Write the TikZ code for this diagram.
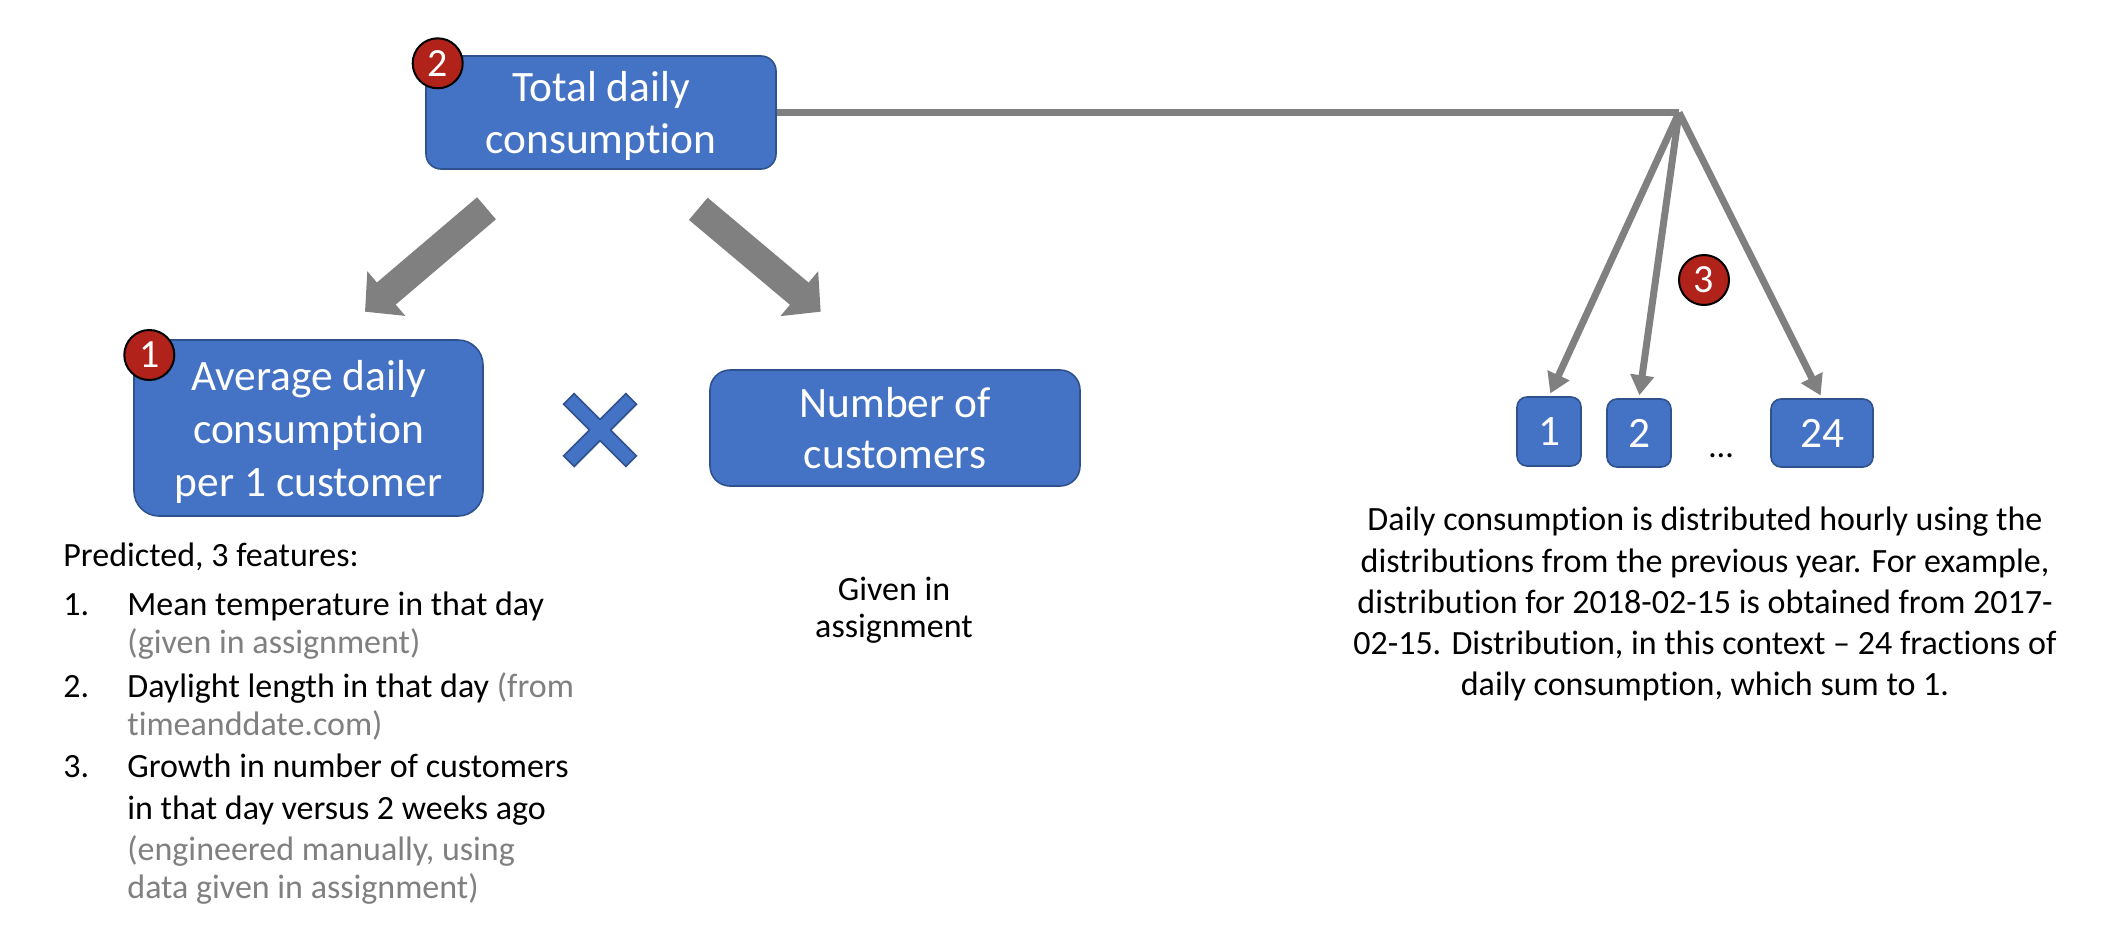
\documentclass[tikz,border=0pt]{standalone}
\usepackage{fontspec}
\setmainfont[Ligatures={NoCommon}]{Carlito}
\usetikzlibrary{arrows.meta}
\definecolor{boxblue}{RGB}{68,114,196}
\definecolor{boxedge}{RGB}{47,82,143}
\definecolor{arrgray}{RGB}{128,128,128}
\definecolor{badgered}{RGB}{176,34,26}
\definecolor{txtgray}{RGB}{128,128,128}
\begin{document}
\begin{tikzpicture}[x=0.5pt,y=-0.5pt,
  bluebox/.style={draw=boxedge, line width=0.8pt, fill=boxblue, text=white, align=center, inner sep=0pt, font=\fontsize{21.7}{25.5}\selectfont},
  badge/.style={circle, draw=black, line width=1pt, fill=badgered, text=white, minimum size=25pt, inner sep=0pt, font=\fontsize{20}{20}\selectfont},
  lbl/.style={inner sep=0pt, font=\fontsize{17}{20}\selectfont, text=black},
  graylbl/.style={lbl, text=txtgray},
  blockarrow/.style={draw=arrgray, line width=14.5pt, -{Triangle[length=14pt,width=28.5pt]}},
  thinarrow/.style={draw=arrgray, line width=3.5pt, -{Triangle[length=10pt,width=11.5pt]}, shorten >=1.5pt},
  thinline/.style={draw=arrgray, line width=3.8pt}
]
\fill[white] (0,0) rectangle (2116,948);
\path[use as bounding box] (0,0) rectangle (2116,948);

% boxes
\node[bluebox, minimum width=175pt, minimum height=56.5pt, rounded corners=7.5pt,
      font=\fontsize{21.7}{26}\selectfont] (total) at (601,112.5) {\rule{0pt}{18pt}Total daily\\consumption};
\node[bluebox, minimum width=174.5pt, minimum height=88pt, rounded corners=12.5pt,
      font=\fontsize{21.7}{26.5}\selectfont] (avg) at (308.5,428) {\rule{0pt}{18.5pt}Average daily\\consumption\\per 1 customer};
\node[bluebox, minimum width=185pt, minimum height=58pt, rounded corners=10pt] (num) at (895,428) {Number of\\customers};
\node[bluebox, minimum width=32pt, minimum height=34.5pt, rounded corners=5pt] (h1) at (1549,431.5) {1};
\node[bluebox, minimum width=32pt, minimum height=34pt, rounded corners=5pt] (h2) at (1639,433) {2};
\node[bluebox, minimum width=51pt, minimum height=34pt, rounded corners=5pt] (h24) at (1822,433) {24};
\node[lbl, anchor=base] (dots) at (1721,457) {\dots};

% badges
\node[badge] (b2) at (437.7,63.3) {2};
\node[badge] (b1) at (149.3,355) {1};
\node[badge] (b3) at (1704,280) {3};

% multiplication sign
\begin{scope}[shift={(600,430)}, rotate=45]
\filldraw[fill=boxblue, draw=boxedge, line width=0.8pt]
  (7.5,-7.5) -- (44,-7.5) -- (44,7.5) -- (7.5,7.5) -- (7.5,44) -- (-7.5,44) -- (-7.5,7.5)
  -- (-44,7.5) -- (-44,-7.5) -- (-7.5,-7.5) -- (-7.5,-44) -- (7.5,-44) -- cycle;
\end{scope}

% block arrows
\coordinate (la0) at (486.5,208.3);
\coordinate (la1) at (365,311.7);
\coordinate (ra0) at (698.3,208.8);
\coordinate (ra1) at (820.7,311.7);
\draw[blockarrow] (la0) -- (la1);
\draw[blockarrow] (ra0) -- (ra1);

% distribution connectors
\coordinate (split) at (1679,112.5);
\draw[thinline] (total.east) -- (split);
\draw[thinarrow] (split) -- (h1.north);
\draw[thinarrow] (split) -- (h2.north);
\draw[thinarrow] (split) -- (h24.north);

% left list
\node[lbl, anchor=base west] (pred) at (63,566) {Predicted, 3 features:};
\node[lbl, anchor=base west] (n1) at (63,615) {1.};
\node[lbl, anchor=base west] (t1) at (127,615) {Mean temperature in that day};
\node[graylbl, anchor=base west] (t1b) at (127,653) {(given in assignment)};
\node[lbl, anchor=base west] (n2) at (63,697) {2.};
\node[lbl, anchor=base west] (t2) at (127,697) {Daylight length in that day \textcolor{txtgray}{(from}};
\node[graylbl, anchor=base west] (t2b) at (127,735) {timeanddate.com)};
\node[lbl, anchor=base west] (n3) at (63,777) {3.};
\node[lbl, anchor=base west] (t3) at (127,777) {Growth in number of customers};
\node[lbl, anchor=base west] (t3b) at (127,819) {in that day versus 2 weeks ago};
\node[graylbl, anchor=base west] (t3c) at (127,860) {(engineered manually, using};
\node[graylbl, anchor=base west] (t3d) at (127,898) {data given in assignment)};

% given
\node[lbl, anchor=base] (g1) at (894,600) {Given in};
\node[lbl, anchor=base] (g2) at (894,637) {assignment};

% right paragraph
\node[lbl, anchor=base] (r1) at (1705,530) {Daily consumption is distributed hourly using the};
\node[lbl, anchor=base] (r2) at (1705,572) {distributions from the previous year. For example,};
\node[lbl, anchor=base] (r3) at (1705,613) {distribution for 2018-02-15 is obtained from 2017-};
\node[lbl, anchor=base] (r4) at (1705,654) {02-15. Distribution, in this context -- 24 fractions of};
\node[lbl, anchor=base] (r5) at (1705,695) {daily consumption, which sum to 1.};
\end{tikzpicture}
\end{document}
